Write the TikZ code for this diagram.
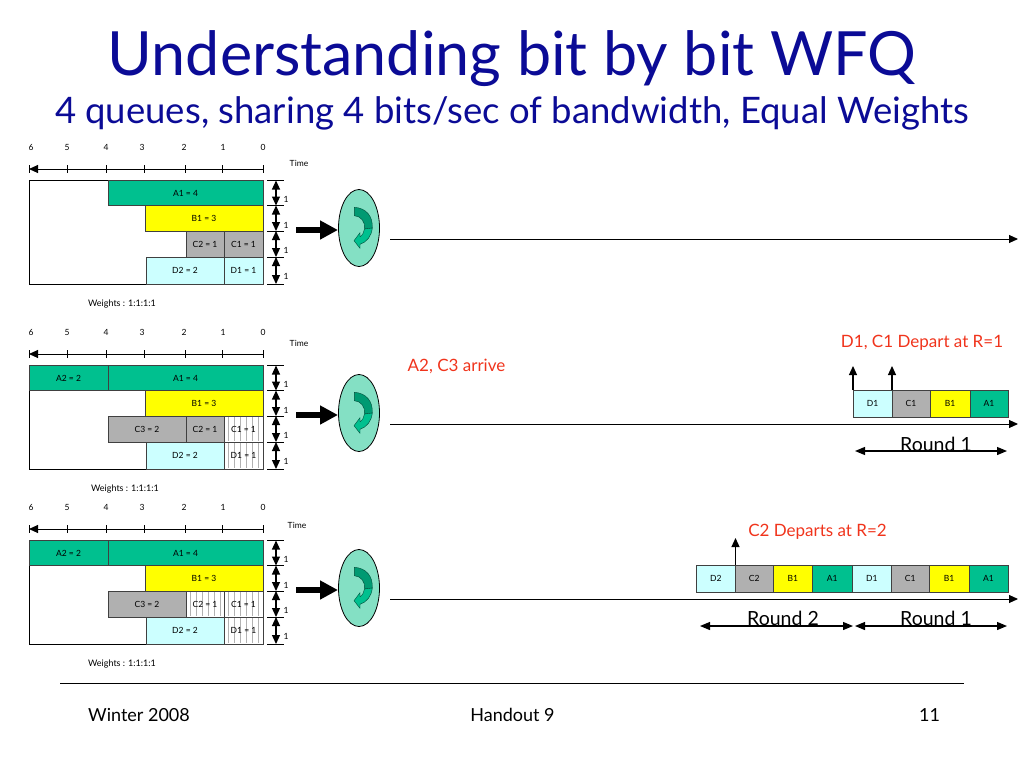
\documentclass[tikz,border=0pt]{standalone}
\usepackage{fontspec}
\setmainfont{Lato}
\usetikzlibrary{arrows.meta,shapes.geometric}
\definecolor{ttl}{HTML}{0B0B96}
\definecolor{rd}{HTML}{F0341C}
\definecolor{gA}{HTML}{00C08F}
\definecolor{gB}{HTML}{FFFF00}
\definecolor{gC}{HTML}{B0B0B0}
\definecolor{gD}{HTML}{CCFFFF}
\definecolor{ell}{HTML}{84E0C4}
\tikzset{
 cell/.style={draw=black!75,line width=1pt,inner sep=0pt,outer sep=0pt,font=\fontsize{8.5}{8.5}\selectfont},
 tk/.style={font=\fontsize{8.5}{8.5}\selectfont,inner sep=0pt},
 wt/.style={font=\fontsize{9}{9}\selectfont,inner sep=0pt},
 redt/.style={text=rd,font=\fontsize{17}{17}\selectfont,inner sep=0pt},
 rnd/.style={font=\fontsize{19.5}{19.5}\selectfont,inner sep=0pt},
 foot/.style={font=\fontsize{18}{18}\selectfont,inner sep=0pt},
 dbl/.style={line width=1.2pt,{Triangle[width=8pt,length=9pt]}-{Triangle[width=8pt,length=9pt]}},
 dblb/.style={line width=1.2pt,{Triangle[width=8pt,length=10pt]}-{Triangle[width=8pt,length=10pt]}},
 ax/.style={line width=1pt,-{Triangle[width=8pt,length=9pt]}},
 upar/.style={line width=1.2pt,-{Triangle[width=8pt,length=9pt]}},
 framebox/.style={draw=black,line width=1pt,minimum width=234pt,minimum height=103.5pt,inner sep=0pt,outer sep=0pt,anchor=north west},
}
\newcommand{\cellbox}[7]{% name,x0,y0,x1,y1,fill,text
 \node[cell,fill=#6,minimum width=#4pt-#2pt,minimum height=#5pt-#3pt,anchor=north west] (#1) at (#2,#3) {#7};}
\newcommand{\hatchit}[4]{% x0,y0,x1,y1
 \foreach \hx in {0,6,...,30} {\draw[black!30,line width=.5pt] ({#1+4+\hx},#2+1) -- ({#1+4+\hx},#4-1);}}
\newcommand{\panelbase}[2]{% prefix, yoff
 \begin{scope}[shift={(0,#2)}]
  \foreach \x/\l/\lx in {29/6/31,67/5/67,106/4/106,144/3/142,185/2/184,222/1/223,263/0/263}{
   \node[tk] (#1l\l) at (\lx,147) {\l};
   \draw[line width=.8pt] (\x,165) -- (\x,173);}
  \coordinate (#1axr) at (263,169); \coordinate (#1axl) at (29,169);
  \draw[ax] (#1axr) -- (#1axl);
  \foreach \yy in {180.5,205.5,231,257,284}{\draw[line width=.9pt] (267,\yy) -- (284,\yy);}
  \foreach \ya/\yb/\yl/\n in {180.5/205.5/199/a,205.5/231/225/b,231/257/250/c,257/284/276/d}{
   \coordinate (#1da\n) at (276,\ya); \coordinate (#1db\n) at (276,\yb);
   \draw[dbl] (#1da\n) -- (#1db\n);
   \node[tk] (#1one\n) at (286,\yl) {1};}
  \coordinate (#1bs) at (296,230); \coordinate (#1bt) at (338,230);
  \node[draw=black,fill=ell,ellipse,line width=.8pt,minimum width=41pt,minimum height=77pt,inner sep=0pt] (#1e) at (359,228) {};
  \draw[line width=5.5pt,-{Triangle[width=18pt,length=18pt]},black] (#1bs) -- (#1bt);
  \fill[draw=black!60!gA,line width=.4pt,fill=black!20!gA] (354.3,207.3) .. controls (366,208) and (373,216) .. (372.3,228) -- (364.5,229) .. controls (365.5,222) and (361,216) .. (354.3,215.7) -- cycle;
  \fill[draw=black!60!gA,line width=.4pt,fill=gA] (372.3,228) .. controls (371.5,236) and (367,242) .. (360,244.3) -- (360,248.3) -- (354,240.7) -- (360,232.7) -- (360,236.7) .. controls (362.5,235.5) and (364,232) .. (364.5,229) -- cycle;
 \end{scope}
}
\newcommand{\timeline}[2]{\coordinate (#1s) at (390,#2); \coordinate (#1t) at (1018,#2); \draw[ax] (#1s) -- (#1t);}
\begin{document}
\begin{tikzpicture}[x=1pt,y=-1pt]
\useasboundingbox (0,0) rectangle (1024,768);
\node[text=ttl,font=\fontsize{61}{61}\selectfont,inner sep=0pt] (title) at (512,59) {Understanding bit by bit WFQ};
\node[text=ttl,font=\fontsize{36.5}{36.5}\selectfont,inner sep=0pt] (sub) at (512,113) {4 queues, sharing 4 bits/sec of bandwidth, Equal Weights};

% Panel 1
\node[framebox] (p1box) at (29,180.5) {};
\cellbox{p1a}{108}{180.5}{263}{205.5}{gA}{A1 = 4}
\cellbox{p1b}{145}{205.5}{263}{231}{gB}{B1 = 3}
\cellbox{p1c2}{186}{231}{224}{257}{gC}{C2 = 1}
\cellbox{p1c1}{224}{231}{263}{257}{gC}{C1 = 1}
\cellbox{p1d2}{146}{257}{224}{284}{gD}{D2 = 2}
\cellbox{p1d1}{224}{257}{263}{284}{gD}{D1 = 1}
\panelbase{pa}{0}
\node[tk] (t1) at (299,163) {Time};
\node[wt] (w1) at (122,304) {Weights : 1:1:1:1};
\timeline{la}{239}

% Panel 2
\node[framebox] (p2box) at (29,365.5) {};
\cellbox{p2a2}{29}{365.5}{108}{390.5}{gA}{A2 = 2}
\cellbox{p2a}{108}{365.5}{263}{390.5}{gA}{A1 = 4}
\cellbox{p2b}{145}{390.5}{263}{416}{gB}{B1 = 3}
\cellbox{p2c3}{108}{416}{186}{442}{gC}{C3 = 2}
\cellbox{p2c2}{186}{416}{224}{442}{gC}{C2 = 1}
\hatchit{224}{416}{263}{442}
\node[cell,minimum width=39pt,minimum height=26pt,anchor=north west] (p2c1) at (224,416) {C1 = 1};
\cellbox{p2d2}{146}{442}{224}{469}{gD}{D2 = 2}
\hatchit{224}{442}{263}{469}
\node[cell,minimum width=39pt,minimum height=27pt,anchor=north west] (p2d1) at (224,442) {D1 = 1};
\panelbase{pb}{185}
\node[tk] (t2) at (299,343) {Time};
\node[wt] (w2) at (125,489) {Weights : 1:1:1:1};
\timeline{lb}{424}

% Panel 3
\node[framebox] (p3box) at (29,540.5) {};
\cellbox{p3a2}{29}{540.5}{108}{565.5}{gA}{A2 = 2}
\cellbox{p3a}{108}{540.5}{263}{565.5}{gA}{A1 = 4}
\cellbox{p3b}{145}{565.5}{263}{591}{gB}{B1 = 3}
\cellbox{p3c3}{108}{591}{186}{617}{gC}{C3 = 2}
\hatchit{186}{591}{224}{617}
\node[cell,minimum width=38pt,minimum height=26pt,anchor=north west] (p3c2) at (186,591) {C2 = 1};
\hatchit{224}{591}{263}{617}
\node[cell,minimum width=39pt,minimum height=26pt,anchor=north west] (p3c1) at (224,591) {C1 = 1};
\cellbox{p3d2}{146}{617}{224}{644}{gD}{D2 = 2}
\hatchit{224}{617}{263}{644}
\node[cell,minimum width=39pt,minimum height=27pt,anchor=north west] (p3d1) at (224,617) {D1 = 1};
\panelbase{pc}{360}
\node[tk] (t3) at (297,525) {Time};
\node[wt] (w3) at (122,664) {Weights : 1:1:1:1};
\timeline{lc}{599}

% Right side, panel 2
\cellbox{r1d}{853}{390}{892}{417}{gD}{D1}
\cellbox{r1c}{892}{390}{930}{417}{gC}{C1}
\cellbox{r1b}{930}{390}{970}{417}{gB}{B1}
\cellbox{r1a}{970}{390}{1008}{417}{gA}{A1}
\coordinate (u1) at (853,366); \coordinate (u2) at (892,366);
\draw[upar] (r1d.north west) -- (u1);
\draw[upar] (r1d.north east) -- (u2);
\node[redt] (dep1) at (922,343) {D1, C1 Depart at R=1};
\node[redt] (arr) at (456.5,366) {A2, C3 arrive};
\node[rnd] (rd1) at (936,444) {Round 1};
\coordinate (a1) at (855,451); \coordinate (a2) at (1007,451);
\draw[dblb] (a1) -- (a2);

% Right side, panel 3
\cellbox{s1}{696}{565}{735.5}{592}{gD}{D2}
\cellbox{s2}{735.5}{565}{773}{592}{gC}{C2}
\cellbox{s3}{773}{565}{812.5}{592}{gB}{B1}
\cellbox{s4}{812.5}{565}{852}{592}{gA}{A1}
\cellbox{s5}{852}{565}{891.5}{592}{gD}{D1}
\cellbox{s6}{891.5}{565}{929}{592}{gC}{C1}
\cellbox{s7}{929}{565}{969}{592}{gB}{B1}
\cellbox{s8}{969}{565}{1008}{592}{gA}{A1}
\coordinate (u3) at (735.5,538);
\draw[upar] (s1.north east) -- (u3);
\node[redt] (dep2) at (817.5,532) {C2 Departs at R=2};
\node[rnd] (rd2) at (783,618) {Round 2};
\node[rnd] (rd3) at (936,618) {Round 1};
\coordinate (b1) at (700,626); \coordinate (b2) at (853,626); \coordinate (b3) at (855,626); \coordinate (b4) at (1007,626);
\draw[dblb] (b1) -- (b2);
\draw[dblb] (b3) -- (b4);

% Footer
\coordinate (fl) at (60,683); \coordinate (fr) at (964,683);
\draw[line width=.8pt] (fl) -- (fr);
\node[foot] (f1) at (139,715) {Winter 2008};
\node[foot] (f2) at (512.5,715) {Handout 9};
\node[foot] (f3) at (929.5,715) {11};
\end{tikzpicture}
\end{document}
